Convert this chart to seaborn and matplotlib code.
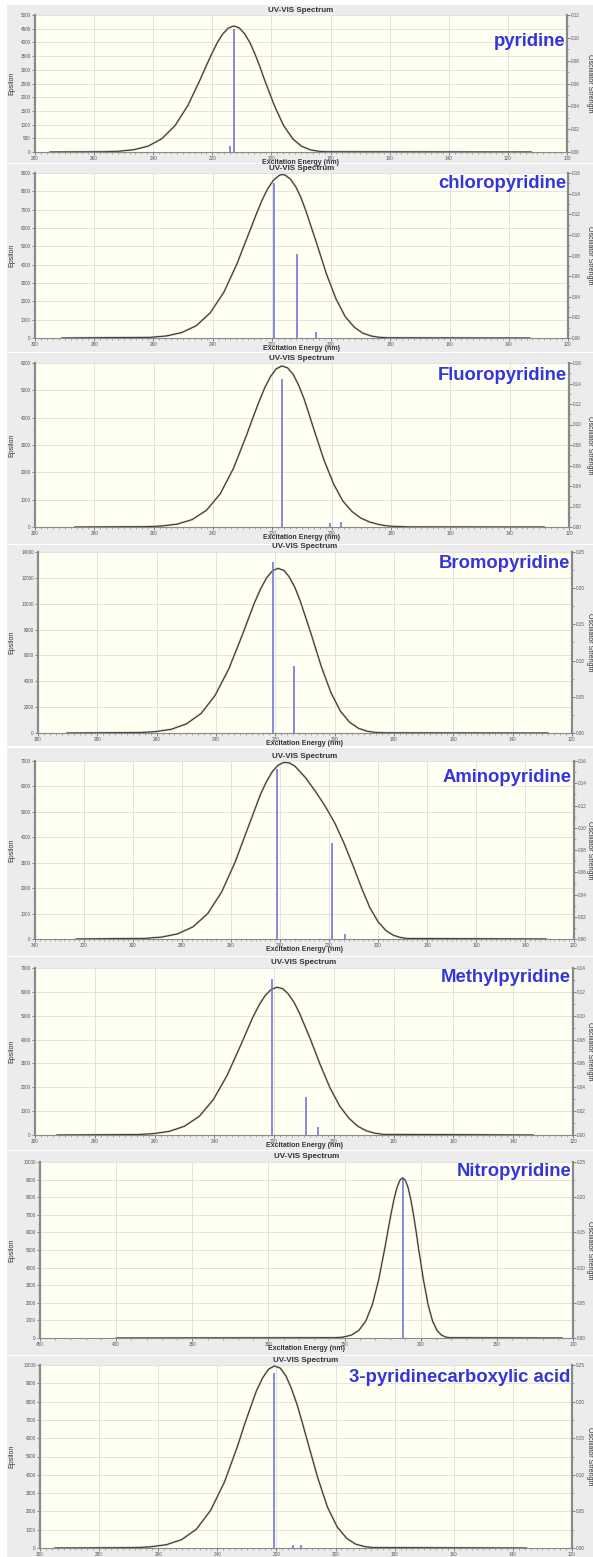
import pandas as pd
import seaborn as sns
import matplotlib.pyplot as plt
from matplotlib.patches import Rectangle
from matplotlib.ticker import MultipleLocator, FormatStrFormatter

sns.set_style("white")
plt.rcParams['font.family'] = ['Liberation Sans', 'DejaVu Sans']

names = ["pyridine", "chloropyridine", "Fluoropyridine", "Bromopyridine",
         "Aminopyridine", "Methylpyridine", "Nitropyridine", "3-pyridinecarboxylic acid"]

# -------------------------------
# broadened spectra (nm, epsilon)
# -------------------------------
wl_pyr = [275, 256.7, 251.5, 246.5, 241.7, 237.1, 232.6, 228.3, 224.2, 222.2, 220.2, 218.3, 216.4, 214.5,
          212.7, 210.9, 209.1, 207.3, 205.6, 203.9, 202.3, 199.0, 195.9, 192.8, 189.9, 187.0, 184.2, 181.5, 112]
eps_pyr = [0, 9, 29, 84, 215, 483, 966, 1693, 2622, 3112, 3583, 3996, 4319, 4529,
           4600, 4529, 4319, 3996, 3583, 3112, 2622, 1693, 966, 483, 215, 84, 29, 9, 0]

wl_cl = [291, 261.0, 255.6, 250.5, 245.5, 240.8, 236.2, 231.8, 227.5, 225.4, 223.4, 221.4, 219.4, 217.5, 216.6,
         215.6, 213.8, 211.9, 210.1, 208.4, 204.9, 201.6, 198.4, 195.3, 192.2, 189.3, 186.4, 183.7, 181.0, 132.9]
eps_cl = [0, 37, 112, 292, 674, 1377, 2503, 4045, 5826, 6700, 7492, 8147, 8619, 8875, 8914,
          8892, 8676, 8242, 7628, 6876, 5170, 3507, 2147, 1185, 590, 265, 107, 39, 12, 0]

wl_f = [286.6, 262.7, 257.2, 252.0, 247.0, 242.2, 237.5, 233.1, 228.8, 226.7, 224.6, 222.6, 220.6, 218.7, 216.8, 214.9,
        213.0, 211.2, 209.4, 207.7, 206.0, 202.6, 199.3, 196.2, 193.1, 190.2, 187.3, 184.5, 181.8, 179.2, 174.1, 128.3]
eps_f = [0, 11, 37, 107, 273, 612, 1224, 2147, 3329, 3954, 4556, 5085, 5505, 5785, 5892, 5825,
         5586, 5206, 4718, 4155, 3571, 2453, 1564, 944, 561, 328, 187, 102, 48, 23, 4, 0]

wl_br = [290.3, 266.1, 260.5, 255.1, 250.0, 245.0, 240.3, 235.7, 231.3, 227.1, 225.0, 223.0, 221.0, 219.1,
         217.1, 215.3, 213.4, 211.6, 208.0, 204.6, 201.3, 198.1, 194.9, 191.9, 189.0, 186.2, 183.4, 128]
eps_br = [0, 33, 103, 286, 701, 1516, 2910, 4953, 7482, 10039, 11129, 11983, 12534, 12736,
          12576, 12069, 11259, 10205, 7709, 5206, 3143, 1697, 818, 353, 136, 46, 15, 0]

wl_nh2 = [323.3, 295.2, 288.3, 281.8, 275.5, 269.5, 263.8, 258.3, 253.0, 248.0, 245.5, 243.1, 240.8, 238.4, 236.2,
          233.9, 229.6, 225.4, 221.4, 217.5, 213.8, 210.1, 206.6, 203.3, 200.0, 196.8, 193.7, 190.7, 187.9, 131.2]
eps_nh2 = [0, 25, 75, 201, 478, 1001, 1851, 3029, 4396, 5680, 6195, 6586, 6835, 6944, 6924,
           6798, 6346, 5788, 5197, 4536, 3749, 2863, 1983, 1230, 682, 334, 146, 57, 20, 0]

wl_me = [292.7, 266.1, 260.5, 255.1, 250.0, 245.0, 240.3, 235.7, 231.3, 227.1, 225.0, 223.0, 221.0, 219.1,
         217.1, 215.3, 213.4, 211.6, 208.0, 204.6, 201.3, 198.1, 194.9, 191.9, 189.0, 186.2, 183.4, 133.2]
eps_me = [0, 18, 55, 151, 367, 787, 1491, 2504, 3730, 4942, 5450, 5845, 6098, 6194,
          6132, 5919, 5576, 5131, 4061, 2953, 1977, 1221, 692, 359, 169, 72, 27, 0]

wl_no2 = [400, 255.6, 250.4, 245.5, 240.7, 236.1, 231.7, 227.5, 223.4, 221.4, 219.4, 217.5, 215.6, 213.7,
          211.9, 210.1, 208.3, 206.6, 204.9, 203.2, 201.6, 198.3, 195.2, 192.2, 189.3, 186.4, 183.7, 181.0, 107]
eps_no2 = [0, 17, 58, 167, 426, 956, 1911, 3349, 5187, 6157, 7089, 7904, 8545, 8959,
           9100, 8959, 8545, 7904, 7089, 6157, 5187, 3349, 1911, 956, 426, 167, 58, 17, 0]

wl_cooh = [295, 268.5, 262.8, 257.3, 252.1, 247.1, 242.3, 237.6, 233.1, 231.0, 228.8, 226.8, 224.7, 222.7,
           220.7, 218.7, 216.8, 215.0, 213.1, 211.3, 209.5, 206.0, 202.7, 199.4, 196.2, 193.2, 190.2, 187.3, 135.4]
eps_cooh = [0, 18, 61, 178, 456, 1024, 2051, 3602, 5595, 6653, 7673, 8574, 9290, 9767,
            9949, 9829, 9409, 8742, 7878, 6880, 5831, 3820, 2221, 1137, 522, 211, 76, 24, 0]

# -------------------------------
# excitations (nm, oscillator strength)
# -------------------------------
stick_wl_pyr, stick_f_pyr = [214.0, 212.6], [0.005, 0.108]
stick_wl_cl, stick_f_cl = [219.3, 211.4, 205.0], [0.150, 0.081, 0.006]
stick_wl_f, stick_f_f = [216.8, 200.4, 196.9], [0.144, 0.0036, 0.005]
stick_wl_br, stick_f_br = [220.8, 213.8], [0.236, 0.092]
stick_wl_nh2, stick_f_nh2 = [241.2, 218.7, 213.5], [0.1525, 0.0866, 0.0048]
stick_wl_me, stick_f_me = [220.8, 209.4, 205.3], [0.131, 0.0322, 0.0064]
stick_wl_no2, stick_f_no2 = [211.9], [0.2264]
stick_wl_cooh, stick_f_cooh = [220.7, 214.5, 211.8], [0.2395, 0.004, 0.004]

curves = [(wl_pyr, eps_pyr), (wl_cl, eps_cl), (wl_f, eps_f), (wl_br, eps_br),
          (wl_nh2, eps_nh2), (wl_me, eps_me), (wl_no2, eps_no2), (wl_cooh, eps_cooh)]
sticks = [(stick_wl_pyr, stick_f_pyr), (stick_wl_cl, stick_f_cl), (stick_wl_f, stick_f_f),
          (stick_wl_br, stick_f_br), (stick_wl_nh2, stick_f_nh2), (stick_wl_me, stick_f_me),
          (stick_wl_no2, stick_f_no2), (stick_wl_cooh, stick_f_cooh)]

# axis ranges: x from, x to, x step / eps max, eps step / f max, f step
x_ranges = [(280, 100, 20), (300, 120, 20), (300, 120, 20), (300, 120, 20),
            (340, 120, 20), (300, 120, 20), (450, 100, 50), (300, 120, 20)]
eps_ranges = [(5000, 500), (9000, 1000), (6000, 1000), (14000, 2000),
              (7000, 1000), (7000, 1000), (10000, 1000), (10000, 1000)]
f_ranges = [(0.12, 0.02), (0.16, 0.02), (0.16, 0.02), (0.25, 0.05),
            (0.16, 0.02), (0.14, 0.02), (0.25, 0.05), (0.25, 0.05)]

# layout in pixels
W, H = 593, 1557
boxes = [(5, 163), (164, 352), (353, 544), (545, 746), (748, 956), (957, 1150), (1151, 1355), (1356, 1557)]
plots = [(35, 15, 567, 152), (35, 173, 568, 338), (35, 363, 569, 527), (38, 552, 572, 733),
         (35, 761, 574, 939), (35, 968, 573, 1135), (40, 1162, 573, 1338), (40, 1365, 572, 1548)]
name_dy = [27, 10, 12, 11, 16, 10, 10, 13]

fig = plt.figure(figsize=(W / 100, H / 100), dpi=100)
fig.patch.set_facecolor("white")

axis_col = "#8a8a8a"
tick_kw = dict(labelsize=3.3, colors="#555555", width=0.5, pad=0.8)

for i in range(8):
    t, b = boxes[i]
    fig.add_artist(Rectangle((7 / W, 1 - b / H), (W - 7) / W, (b - t) / H,
                             transform=fig.transFigure, facecolor="#ececec",
                             edgecolor="none", zorder=-5))
    l, top, r, bot = plots[i]
    ax = fig.add_axes([l / W, 1 - bot / H, (r - l) / W, (bot - top) / H])
    ax.set_facecolor("#fffff2")

    df = pd.DataFrame({"wl": curves[i][0], "eps": curves[i][1]})
    sns.lineplot(data=df, x="wl", y="eps", ax=ax, color="#b3ab9b", lw=1.4, estimator=None)
    sns.lineplot(data=df, x="wl", y="eps", ax=ax, color="#1e1e1e", lw=0.55, estimator=None)

    x0, x1, xs = x_ranges[i]
    ax.set_xlim(x0, x1)
    ax.xaxis.set_major_locator(MultipleLocator(xs))
    ax.xaxis.set_minor_locator(MultipleLocator(10 if xs == 50 else 2))
    emax, estep = eps_ranges[i]
    ax.set_ylim(0, emax)
    ax.yaxis.set_major_locator(MultipleLocator(estep))
    ax.yaxis.set_minor_locator(MultipleLocator(estep / 2))
    ax.grid(True, which="major", color="#dedede", lw=0.6)
    ax.set_xlabel("")
    ax.set_ylabel("")
    ax.tick_params(which="major", length=2.2, direction="out", **tick_kw)
    ax.tick_params(which="minor", length=1.2, width=0.4, colors="#777777", direction="out")
    ax.tick_params(axis="x", which="both", bottom=True)
    ax.tick_params(axis="y", which="both", left=True)
    for s in ["top", "right"]:
        ax.spines[s].set_visible(False)
    ax.spines["left"].set_color(axis_col)
    ax.spines["left"].set_linewidth(1.6)
    ax.spines["bottom"].set_color(axis_col)
    ax.spines["bottom"].set_linewidth(0.8)

    ax2 = ax.twinx()
    fmax, fstep = f_ranges[i]
    ax2.vlines(sticks[i][0], 0, sticks[i][1], colors="#7676d8", lw=1.2)
    ax2.set_ylim(0, fmax)
    ax2.yaxis.set_major_locator(MultipleLocator(fstep))
    ax2.yaxis.set_minor_locator(MultipleLocator(fstep / 2))
    ax2.yaxis.set_major_formatter(FormatStrFormatter("%.2f"))
    ax2.tick_params(which="major", length=2.2, direction="out", **tick_kw)
    ax2.tick_params(which="minor", length=1.2, width=0.4, colors="#777777", direction="out")
    ax2.tick_params(axis="y", which="both", right=True)
    for s in ["top", "left", "bottom"]:
        ax2.spines[s].set_visible(False)
    ax2.spines["right"].set_color(axis_col)
    ax2.spines["right"].set_linewidth(1.6)

    cx = (l + r) / 2 / W
    fig.text(cx, 1 - (top - 5) / H, "UV-VIS Spectrum", ha="center", va="center",
             fontsize=5.8, fontweight="bold", color="#333333")
    if i < 7:
        fig.text(cx, 1 - (bot + 10.5) / H, "Excitation Energy (nm)", ha="center", va="center",
                 fontsize=5, fontweight="bold", color="#333333")
    fig.text(12 / W, 1 - (top + bot) / 2 / H, "Epsilon", rotation=90, ha="center",
             va="center", fontsize=5, color="#333333")
    fig.text(590 / W, 1 - (top + bot) / 2 / H, "Oscillator Strength", rotation=270,
             ha="center", va="center", fontsize=5, color="#333333")
    fig.text((r - 2) / W, 1 - (top + name_dy[i]) / H, names[i], ha="right", va="center",
             fontsize=13.3, fontweight="bold", color="#3434e0")

fig.savefig("out.png", dpi=100)
